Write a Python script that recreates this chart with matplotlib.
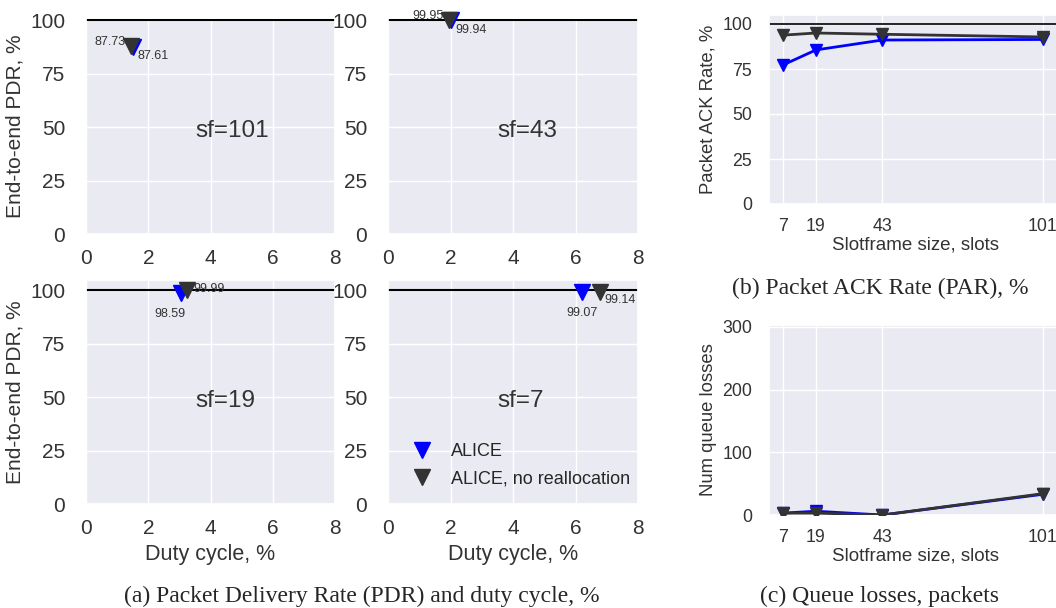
import numpy as np
import matplotlib
matplotlib.use("Agg")
import matplotlib.pyplot as plt
import seaborn as sns

sns.set_theme(style="darkgrid")
plt.rcParams['font.family'] = ['Liberation Sans', 'DejaVu Sans']

# PDR vs duty cycle, one panel per slotframe size
sf_panels = [101, 43, 19, 7]
dc_alice = [1.52, 2.02, 3.05, 6.20]
pdr_alice = [87.61, 99.94, 98.59, 99.07]
dc_norealloc = [1.45, 1.95, 3.24, 6.78]
pdr_norealloc = [87.73, 99.95, 99.99, 99.14]

# PAR and queue losses vs slotframe size
slotframes = [7, 19, 43, 101]
par_alice = [77.2, 85.6, 91.1, 91.4]
par_norealloc = [93.8, 95.0, 94.3, 92.8]
queue_alice = [3, 6, 0, 33]
queue_norealloc = [3, 3, 0, 34]

BLUE = '#0000ff'
DARK = '#333333'
W, H = 1056, 608

# label offsets (points) for alice / no realloc annotations
off_alice = [(3, -7, 'left'), (3, -7, 'left'), (-8, -15, 'center'), (0, -15, 'center')]
off_norealloc = [(-4, 3, 'right'), (-4, 3, 'right'), (5, 1, 'left'), (3, -6, 'left')]


def px_axes(fig, x0, y0, x1, y1):
    return fig.add_axes([x0 / W, 1 - y1 / H, (x1 - x0) / W, (y1 - y0) / H])


fig = plt.figure(figsize=(W / 100, H / 100), dpi=100)

boxes = [(86, 18, 335, 234), (388, 18, 638, 234),
         (86, 280, 335, 504), (388, 280, 638, 504)]
ylims = [101, 101, 104.7, 104.7]
for i, sf in enumerate(sf_panels):
    ax = px_axes(fig, *boxes[i])
    ax.axhline(100, color='black', lw=1.5, zorder=2)
    ax.plot(dc_alice[i], pdr_alice[i], 'v', color=BLUE, ms=11, clip_on=False,
            zorder=3, label='ALICE')
    ax.plot(dc_norealloc[i], pdr_norealloc[i], 'v', color=DARK, ms=11,
            clip_on=False, zorder=4, label='ALICE, no reallocation')
    dx, dy, ha = off_alice[i]
    ax.annotate('%.2f' % pdr_alice[i], (dc_alice[i], pdr_alice[i]),
                xytext=(dx, dy), textcoords='offset points', ha=ha,
                va='center', fontsize=9, color='#333333', annotation_clip=False)
    dx, dy, ha = off_norealloc[i]
    ax.annotate('%.2f' % pdr_norealloc[i], (dc_norealloc[i], pdr_norealloc[i]),
                xytext=(dx, dy), textcoords='offset points', ha=ha,
                va='center', fontsize=9, color='#333333', annotation_clip=False)
    ax.text(3.5, 48, 'sf=%d' % sf, fontsize=17.5, va='center', ha='left',
            color='#333333')
    ax.set_xlim(0, 8)
    ax.set_ylim(0, ylims[i])
    ax.set_xticks([0, 2, 4, 6, 8])
    ax.set_yticks([0, 25, 50, 75, 100])
    ax.tick_params(labelsize=15, colors='#333333')
    ax.tick_params(axis='x', pad=5)
    ax.tick_params(axis='y', pad=9)
    if i % 2 == 0:
        ax.set_ylabel('End-to-end PDR, %', fontsize=15, color='#333333')
    if i >= 2:
        ax.set_xlabel('Duty cycle, %', fontsize=15.5, color='#333333')
    if i == 3:
        ax.legend(loc='lower left', bbox_to_anchor=(0.0, 0.0), frameon=False,
                  fontsize=13, handletextpad=0.6, labelspacing=0.6)

# (b) PAR
axb = px_axes(fig, 769, 15, 1062, 204)
axb.axhline(100, color='black', lw=1.2, zorder=2)
axb.plot(slotframes, par_alice, '-v', color=BLUE, lw=2, ms=9, zorder=3)
axb.plot(slotframes, par_norealloc, '-v', color=DARK, lw=2, ms=9, zorder=4)
axb.set_xlim(2, 108)
axb.set_ylim(0, 105)
axb.set_xticks(slotframes)
axb.set_yticks([0, 25, 50, 75, 100])
axb.tick_params(labelsize=12.8, colors='#333333')
axb.tick_params(axis='x', pad=4)
axb.tick_params(axis='y', pad=6)
axb.set_ylabel('Packet ACK Rate, %', fontsize=13.3, color='#333333')
axb.set_xlabel('Slotframe size, slots', fontsize=13.5, color='#333333', labelpad=1)

# (c) queue losses
axc = px_axes(fig, 769, 325, 1062, 515)
axc.plot(slotframes, queue_alice, '-v', color=BLUE, lw=2, ms=9, zorder=3)
axc.plot(slotframes, queue_norealloc, '-v', color=DARK, lw=2, ms=9, zorder=4)
axc.set_xlim(2, 108)
axc.set_ylim(0, 303)
axc.set_xticks(slotframes)
axc.set_yticks([0, 100, 200, 300])
axc.tick_params(labelsize=12.8, colors='#333333')
axc.tick_params(axis='x', pad=4)
axc.tick_params(axis='y', pad=6)
axc.set_ylabel('Num queue losses', fontsize=13.3, color='#333333')
axc.set_xlabel('Slotframe size, slots', fontsize=13.5, color='#333333', labelpad=1)

serif = ['Liberation Serif', 'DejaVu Serif']
fig.text(362 / W, 1 - 596 / H, '(a) Packet Delivery Rate (PDR) and duty cycle, %',
         family=serif, fontsize=17, ha='center', va='center')
fig.text(880 / W, 1 - 288 / H, '(b) Packet ACK Rate (PAR), %',
         family=serif, fontsize=17, ha='center', va='center')
fig.text(880 / W, 1 - 596 / H, '(c) Queue losses, packets',
         family=serif, fontsize=17, ha='center', va='center')

fig.savefig('out.png', dpi=100)
